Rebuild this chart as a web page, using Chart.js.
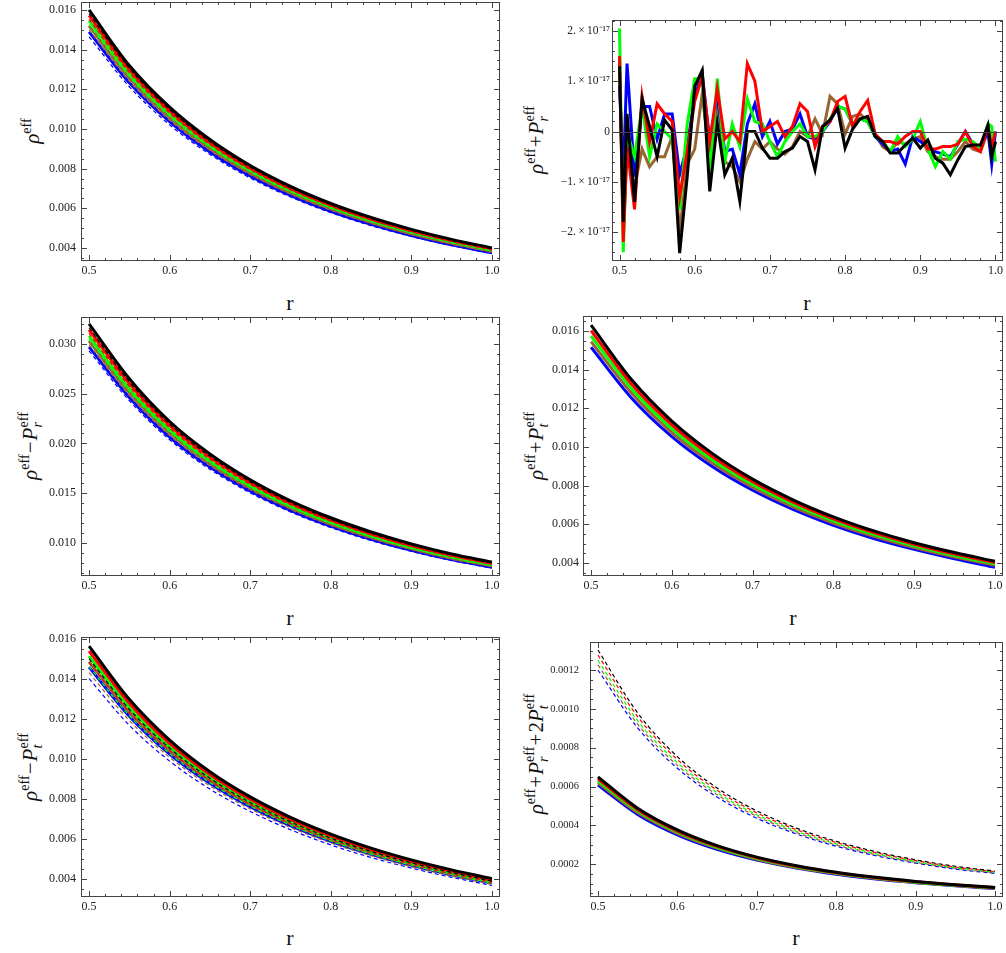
<!DOCTYPE html>
<html>
<head>
<meta charset="utf-8">
<script src="https://cdn.jsdelivr.net/npm/chart.js@4.4.0/dist/chart.umd.min.js"></script>
<style>
  body { margin: 0; background: #fff; }
  #page { position: relative; width: 1006px; height: 953px; overflow: hidden; font-family: "Liberation Serif", serif; color: #111; }
  canvas { position: absolute; }
  .xt { position: absolute; font-size: 22px; line-height: 1; transform: translate(-50%, -50%); }
  .yt { position: absolute; font-size: 21px; line-height: 1; white-space: nowrap; transform: translate(-50%, -50%) rotate(-90deg); }
  .sp { font-size: 0.68em; vertical-align: 0.55em; }
  .ss { display: inline-block; font-size: 0.68em; line-height: 0.95; vertical-align: -0.35em; }
  .ss span { display: block; }
  .op { margin: 0 1px; }
</style>
</head>
<body>
<div id="page">
  <div class="yt" style="left:31px; top:131px"><i>ρ</i><span class="sp">eff</span></div>
  <div class="yt" style="left:537px; top:140px"><i>ρ</i><span class="sp">eff</span><span class="op">+</span><i>P</i><span class="ss"><span>eff</span><span><i>r</i></span></span></div>
  <div class="yt" style="left:31px; top:446px"><i>ρ</i><span class="sp">eff</span><span class="op">−</span><i>P</i><span class="ss"><span>eff</span><span><i>r</i></span></span></div>
  <div class="yt" style="left:537px; top:446px"><i>ρ</i><span class="sp">eff</span><span class="op">+</span><i>P</i><span class="ss"><span>eff</span><span><i>t</i></span></span></div>
  <div class="yt" style="left:31px; top:767px"><i>ρ</i><span class="sp">eff</span><span class="op">−</span><i>P</i><span class="ss"><span>eff</span><span><i>t</i></span></span></div>
  <div class="yt" style="left:537px; top:754px"><i>ρ</i><span class="sp">eff</span><span class="op">+</span><i>P</i><span class="ss"><span>eff</span><span><i>r</i></span></span><span class="op">+</span>2<i>P</i><span class="ss"><span>eff</span><span><i>t</i></span></span></div>
  <div class="xt" style="left:290px; top:303px">r</div>
  <div class="xt" style="left:807px; top:303px">r</div>
  <div class="xt" style="left:290px; top:618px">r</div>
  <div class="xt" style="left:793px; top:618px">r</div>
  <div class="xt" style="left:290px; top:938px">r</div>
  <div class="xt" style="left:796px; top:938px">r</div>
</div>
<script>
// radius samples used for the smooth curves
const r = [0.5, 0.55, 0.6, 0.65, 0.7, 0.75, 0.8, 0.85, 0.9, 0.95, 1.0];

// rho^eff
const rhoBlack = [0.0160, 0.0132, 0.0111, 0.00947, 0.00816, 0.00711, 0.00625, 0.00554, 0.00494, 0.00443, 0.00400];
const rhoRed = [0.01573, 0.01300, 0.01093, 0.00932, 0.00804, 0.00701, 0.00616, 0.00546, 0.00487, 0.00437, 0.00394];
const rhoGreen = [0.01547, 0.01280, 0.01076, 0.00918, 0.00792, 0.00690, 0.00607, 0.00538, 0.00480, 0.00431, 0.00389];
const rhoBrown = [0.01520, 0.01257, 0.01057, 0.00902, 0.00778, 0.00678, 0.00597, 0.00529, 0.00472, 0.00424, 0.00383];
const rhoBlue = [0.01490, 0.01233, 0.01037, 0.00884, 0.00763, 0.00665, 0.00585, 0.00519, 0.00463, 0.00416, 0.00376];
const rhoBlackDash = [0.01582, 0.01307, 0.01098, 0.00937, 0.00808, 0.00704, 0.00619, 0.00549, 0.00490, 0.00439, 0.00397];
const rhoRedDash = [0.01553, 0.01284, 0.01080, 0.00921, 0.00795, 0.00693, 0.00610, 0.00541, 0.00483, 0.00433, 0.00391];
const rhoGreenDash = [0.01527, 0.01264, 0.01063, 0.00907, 0.00783, 0.00683, 0.00601, 0.00533, 0.00476, 0.00427, 0.00386];
const rhoBrownDash = [0.01500, 0.01241, 0.01044, 0.00892, 0.00770, 0.00671, 0.00591, 0.00524, 0.00468, 0.00420, 0.00380];
const rhoBlueDash = [0.01465, 0.01213, 0.01021, 0.00872, 0.00753, 0.00657, 0.00578, 0.00513, 0.00458, 0.00412, 0.00372];

// rho^eff + P_r^eff, numerical noise, values in units of 1e-17
const rNoise = [0.5, 0.505, 0.51, 0.52, 0.53, 0.54, 0.55, 0.56, 0.57, 0.58, 0.59, 0.60, 0.61, 0.62, 0.63, 0.64, 0.65,
  0.66, 0.67, 0.68, 0.69, 0.70, 0.71, 0.72, 0.73, 0.74, 0.75, 0.76, 0.77, 0.78, 0.79, 0.80, 0.81, 0.82, 0.83, 0.84,
  0.85, 0.86, 0.87, 0.88, 0.89, 0.90, 0.91, 0.92, 0.93, 0.94, 0.95, 0.96, 0.97, 0.98, 0.99, 0.995, 1.0];
const noiseBlack = [1.3, -1.8, 0.35, -1.4, 0.65, 0.1, -0.5, 0.23, 0.03, -2.42, -0.9, 0.9, 1.22, -1.19, 0.17, -0.86, -0.53,
  -1.39, 0, 0, -0.33, -0.53, -0.53, -0.4, -0.33, -0.1, -0.2, -0.76, 0.1, 0.23, 0.46, -0.33, 0.05, 0.25, 0.3, -0.1,
  -0.2, -0.43, -0.43, -0.27, -0.13, -0.33, -0.17, -0.53, -0.63, -0.86, -0.56, -0.3, -0.27, -0.27, 0.13, -0.5, -0.2];
const noiseRed = [1.5, -2.2, -0.3, -1.55, 0.7, -0.2, 0.55, 0.35, 0.2, -1.3, -0.4, 0.6, 1.1, -0.2, 0.85, -0.15, 0.0,
  -0.2, 1.35, 1.0, 0.0, 0.1, 0.2, -0.1, 0.1, 0.55, 0.4, -0.3, 0.1, 0.2, 0.6, 0.7, 0.1, 0.4, 0.62, -0.05,
  -0.2, -0.2, -0.25, -0.1, 0.0, 0.0, -0.35, -0.35, -0.3, -0.3, -0.25, 0.0, -0.3, -0.4, 0.1, -0.3, 0.0];
const noiseGreen = [2.05, -2.4, 0.0, -0.5, 0.5, -0.5, 0.15, 0.0, -0.15, -1.55, 0.15, 1.05, 1.05, -0.85, 1.05, -0.6, 0.15,
  -0.3, 0.65, 0.2, 0.15, -0.2, -0.5, -0.2, 0.0, 0.15, -0.1, -0.1, 0.0, 0.25, 0.5, 0.45, 0.15, 0.25, 0.2, -0.1,
  -0.2, -0.4, -0.1, -0.3, -0.15, 0.2, -0.35, -0.7, -0.4, -0.55, -0.2, -0.15, -0.2, -0.35, 0.15, 0.1, -0.6];
const noiseBlue = [0.9, -0.9, 1.35, -0.9, 0.5, 0.5, -0.15, 0.35, 0.35, -0.85, -0.3, 0.7, 1.15, -0.2, 0.7, -0.4, -0.35,
  -0.85, 0.15, 0.55, -0.1, 0.2, -0.25, 0.0, 0.05, 0.35, -0.1, -0.15, 0.0, 0.2, 0.5, 0.45, 0.15, 0.25, 0.2, -0.1,
  -0.25, -0.4, -0.35, -0.65, -0.1, -0.2, -0.3, -0.4, -0.45, -0.5, -0.25, 0.0, -0.25, -0.3, 0.0, -0.65, 0.0];
const noiseBrown = [1.4, -2.0, -0.4, -1.1, -0.35, -0.7, -0.5, -0.5, -0.1, -2.0, -0.65, -0.35, 0.75, -0.55, 0.65, -0.6, -0.7,
  -1.0, -0.55, -0.2, -0.35, -0.2, -0.35, -0.45, -0.3, 0.0, -0.1, 0.25, -0.05, 0.7, 0.55, -0.05, 0.3, 0.35, 0.2, -0.05,
  -0.3, -0.4, -0.2, -0.25, -0.15, -0.1, -0.4, -0.5, -0.55, -0.55, -0.4, -0.2, -0.35, -0.4, 0.0, -0.5, -0.2];

// rho^eff - P_r^eff
const rmprBlack = [0.0320, 0.0265, 0.0222, 0.01895, 0.01635, 0.01424, 0.01253, 0.01111, 0.00991, 0.00890, 0.00808];
const rmprRed = [0.03142, 0.02602, 0.02181, 0.01862, 0.01607, 0.01400, 0.01232, 0.01093, 0.00975, 0.00876, 0.00795];
const rmprGreen = [0.03080, 0.02552, 0.02139, 0.01826, 0.01576, 0.01373, 0.01209, 0.01072, 0.00957, 0.00860, 0.00781];
const rmprBrown = [0.03030, 0.02511, 0.02105, 0.01797, 0.01552, 0.01352, 0.01190, 0.01056, 0.00943, 0.00847, 0.00770];
const rmprBlue = [0.02970, 0.02462, 0.02064, 0.01763, 0.01523, 0.01328, 0.01169, 0.01037, 0.00926, 0.00833, 0.00757];
const rmprBlackDash = [0.03162, 0.02619, 0.02194, 0.01873, 0.01616, 0.01407, 0.01238, 0.01098, 0.00980, 0.00880, 0.00799];
const rmprRedDash = [0.03105, 0.02572, 0.02155, 0.01840, 0.01588, 0.01384, 0.01218, 0.01081, 0.00964, 0.00866, 0.00786];
const rmprGreenDash = [0.03045, 0.02523, 0.02115, 0.01806, 0.01559, 0.01359, 0.01196, 0.01061, 0.00947, 0.00851, 0.00773];
const rmprBrownDash = [0.02993, 0.02481, 0.02080, 0.01776, 0.01534, 0.01337, 0.01177, 0.01044, 0.00933, 0.00838, 0.00762];
const rmprBlueDash = [0.02930, 0.02429, 0.02037, 0.01740, 0.01503, 0.01311, 0.01154, 0.01024, 0.00915, 0.00823, 0.00748];

// rho^eff + P_t^eff
const rpptBlack = [0.01630, 0.01349, 0.01134, 0.00967, 0.00834, 0.00727, 0.00639, 0.00566, 0.00505, 0.00454, 0.00409];
const rpptRed = [0.01602, 0.01326, 0.01115, 0.00951, 0.00820, 0.00715, 0.00628, 0.00557, 0.00497, 0.00446, 0.00402];
const rpptGreen = [0.01574, 0.01303, 0.01095, 0.00934, 0.00806, 0.00703, 0.00618, 0.00548, 0.00489, 0.00439, 0.00396];
const rpptBrown = [0.01545, 0.01279, 0.01075, 0.00917, 0.00792, 0.00690, 0.00607, 0.00538, 0.00480, 0.00431, 0.00389];
const rpptBlue = [0.01516, 0.01254, 0.01054, 0.00899, 0.00776, 0.00677, 0.00595, 0.00527, 0.00471, 0.00422, 0.00378];

// rho^eff - P_t^eff
const rmptBlack = [0.01563, 0.01297, 0.01093, 0.00935, 0.00809, 0.00707, 0.00623, 0.00553, 0.00494, 0.00444, 0.00400];
const rmptRed = [0.01538, 0.01277, 0.01076, 0.00921, 0.00797, 0.00696, 0.00614, 0.00545, 0.00487, 0.00438, 0.00394];
const rmptGreen = [0.01513, 0.01256, 0.01059, 0.00907, 0.00785, 0.00686, 0.00605, 0.00537, 0.00480, 0.00432, 0.00389];
const rmptBrown = [0.01485, 0.01234, 0.01041, 0.00892, 0.00772, 0.00675, 0.00595, 0.00529, 0.00473, 0.00425, 0.00383];
const rmptBlue = [0.01458, 0.01212, 0.01023, 0.00877, 0.00760, 0.00665, 0.00587, 0.00522, 0.00467, 0.00420, 0.00378];
const rmptBlackDash = [0.01500, 0.01247, 0.01053, 0.00902, 0.00781, 0.00684, 0.00603, 0.00536, 0.00479, 0.00431, 0.00388];
const rmptRedDash = [0.01480, 0.01231, 0.01040, 0.00891, 0.00772, 0.00676, 0.00596, 0.00530, 0.00473, 0.00425, 0.00383];
const rmptGreenDash = [0.01460, 0.01215, 0.01026, 0.00880, 0.00763, 0.00668, 0.00589, 0.00523, 0.00468, 0.00420, 0.00378];
const rmptBrownDash = [0.01430, 0.01191, 0.01007, 0.00864, 0.00749, 0.00656, 0.00579, 0.00515, 0.00460, 0.00413, 0.00372];
const rmptBlueDash = [0.01400, 0.01167, 0.00988, 0.00848, 0.00736, 0.00645, 0.00569, 0.00506, 0.00453, 0.00407, 0.00366];

// rho^eff + P_r^eff + 2 P_t^eff
const secBlack = [0.000650, 0.000489, 0.000377, 0.000296, 0.000237, 0.000193, 0.000159, 0.000133, 0.000112, 0.000095, 0.000081];
const secRed = [0.000640, 0.000481, 0.000371, 0.000292, 0.000234, 0.000190, 0.000157, 0.000131, 0.000110, 0.000094, 0.000080];
const secGreen = [0.000630, 0.000474, 0.000365, 0.000287, 0.000230, 0.000187, 0.000154, 0.000129, 0.000108, 0.000092, 0.000079];
const secBrown = [0.000620, 0.000466, 0.000359, 0.000283, 0.000226, 0.000184, 0.000152, 0.000127, 0.000107, 0.000091, 0.000077];
const secBlue = [0.000608, 0.000457, 0.000352, 0.000277, 0.000222, 0.000181, 0.000149, 0.000124, 0.000105, 0.000089, 0.000075];
const secBlackDash = [0.001303, 0.000979, 0.000754, 0.000593, 0.000475, 0.000386, 0.000318, 0.000265, 0.000223, 0.000190, 0.000165];
const secRedDash = [0.001277, 0.000960, 0.000739, 0.000581, 0.000465, 0.000378, 0.000312, 0.000260, 0.000219, 0.000186, 0.000162];
const secGreenDash = [0.001250, 0.000939, 0.000723, 0.000569, 0.000455, 0.000370, 0.000305, 0.000254, 0.000214, 0.000182, 0.000159];
const secBrownDash = [0.001226, 0.000921, 0.000709, 0.000558, 0.000447, 0.000363, 0.000299, 0.000249, 0.000210, 0.000179, 0.000156];
const secBlueDash = [0.001200, 0.000902, 0.000694, 0.000546, 0.000437, 0.000356, 0.000293, 0.000244, 0.000206, 0.000175, 0.000153];

const BLACK = '#000000', RED = '#ff0000', GREEN = '#00ff00', BROWN = '#996633', BLUE = '#0000ff';
const FRAME = '#444444';

function solid(xs, ys, color) {
  return {
    data: xs.map((x, i) => ({x: x, y: ys[i]})),
    borderColor: color, borderWidth: 3, pointRadius: 0,
    cubicInterpolationMode: 'monotone'
  };
}
function dashed(xs, ys, color) {
  return {
    data: xs.map((x, i) => ({x: x, y: ys[i]})),
    borderColor: color, borderWidth: 1.2, borderDash: [4, 3], pointRadius: 0,
    cubicInterpolationMode: 'monotone'
  };
}
function jagged(xs, ys, color) {
  return {
    data: xs.map((x, i) => ({x: x, y: ys[i]})),
    borderColor: color, borderWidth: 3, pointRadius: 0, tension: 0,
    borderJoinStyle: 'miter'
  };
}

// Mathematica style frame: box with inward major and minor ticks on all sides
const frameTicks = {
  id: 'frameTicks',
  afterDatasetsDraw(chart, args, opts) {
    const {ctx, chartArea: a, scales} = chart;
    ctx.save();
    ctx.strokeStyle = FRAME;
    ctx.lineWidth = 1;
    if (opts.zeroLine) {
      const py = Math.round(scales.y.getPixelForValue(0)) + 0.5;
      ctx.beginPath(); ctx.moveTo(a.left, py); ctx.lineTo(a.right, py); ctx.stroke();
    }
    ctx.strokeRect(a.left + 0.5, a.top + 0.5, a.right - a.left - 1, a.bottom - a.top - 1);
    const marks = (scale, major, minor) => {
      const out = [];
      const k0 = Math.ceil(scale.min / minor - 1e-9), k1 = Math.floor(scale.max / minor + 1e-9);
      for (let k = k0; k <= k1; k++) {
        const v = k * minor;
        const q = v / major;
        out.push({p: Math.round(scale.getPixelForValue(v)) + 0.5, big: Math.abs(q - Math.round(q)) < 1e-6});
      }
      return out;
    };
    ctx.beginPath();
    marks(scales.x, opts.xMajor, opts.xMinor).forEach(m => {
      const len = m.big ? 6 : 3;
      ctx.moveTo(m.p, a.bottom); ctx.lineTo(m.p, a.bottom - len);
      ctx.moveTo(m.p, a.top); ctx.lineTo(m.p, a.top + len);
    });
    marks(scales.y, opts.yMajor, opts.yMinor).forEach(m => {
      const len = m.big ? 6 : 3;
      ctx.moveTo(a.left, m.p); ctx.lineTo(a.left + len, m.p);
      ctx.moveTo(a.right, m.p); ctx.lineTo(a.right - len, m.p);
    });
    ctx.stroke();
    ctx.restore();
  }
};

function panel(p) {
  const canvas = document.createElement('canvas');
  canvas.width = p.w; canvas.height = p.h;
  canvas.style.left = p.left + 'px';
  canvas.style.top = p.top + 'px';
  document.getElementById('page').appendChild(canvas);
  const xFont = {family: 'Liberation Serif', size: 12};
  const yFont = {family: 'Liberation Serif', size: p.yFontSize || 12};
  new Chart(canvas, {
    type: 'line',
    data: {datasets: p.datasets},
    options: {
      responsive: false,
      animation: false,
      devicePixelRatio: 1,
      layout: {padding: {top: p.padTop, right: p.padRight, left: 0, bottom: 0}},
      plugins: {
        legend: {display: false},
        tooltip: {enabled: false},
        frameTicks: {xMajor: 0.1, xMinor: 0.02, yMajor: p.yStep, yMinor: p.yMinor, zeroLine: !!p.zeroLine}
      },
      scales: {
        x: {
          type: 'linear', min: 0.49, max: 1.01,
          grid: {display: false, drawTicks: false}, border: {display: false},
          ticks: {stepSize: 0.1, includeBounds: false, autoSkip: false, maxRotation: 0, padding: 3,
            font: xFont, color: '#222', callback: v => v.toFixed(1)},
          afterFit: s => { s.height = p.xAxisH; s.paddingLeft = 0; s.paddingRight = 0; }
        },
        y: {
          type: 'linear', min: p.yMin, max: p.yMax,
          grid: {display: false, drawTicks: false}, border: {display: false},
          ticks: {stepSize: p.yStep, includeBounds: false, autoSkip: false, padding: p.yPad,
            font: yFont, color: '#222', callback: p.yLabel},
          afterFit: s => { s.width = p.yAxisW; s.paddingTop = 0; s.paddingBottom = 0; }
        }
      }
    },
    plugins: [frameTicks]
  });
}

const fixed = n => v => v.toFixed(n);
const sci = v => {
  if (Math.abs(v) < 1e-9) return '0';
  return (v < 0 ? '\u2212' : '') + Math.abs(Math.round(v)) + '.\u2009\u00d7\u200910\u207b\u00b9\u2077';
};

panel({
  left: 0, top: 0, w: 501, h: 285, padTop: 2, padRight: 1, yAxisW: 81, xAxisH: 24, yPad: 5,
  yMin: 0.003344, yMax: 0.016403, yStep: 0.002, yMinor: 0.0005, yLabel: fixed(3),
  datasets: [
    dashed(r, rhoBlackDash, BLACK), dashed(r, rhoRedDash, RED), dashed(r, rhoGreenDash, GREEN),
    dashed(r, rhoBrownDash, BROWN), dashed(r, rhoBlueDash, BLUE),
    solid(r, rhoBlack, BLACK), solid(r, rhoRed, RED), solid(r, rhoGreen, GREEN),
    solid(r, rhoBrown, BROWN), solid(r, rhoBlue, BLUE)
  ]
});

panel({
  left: 505, top: 0, w: 501, h: 285, padTop: 20, padRight: 3, yAxisW: 107, xAxisH: 24, yPad: 2,
  yMin: -2.577, yMax: 2.219, yStep: 1, yMinor: 0.2, yLabel: sci, zeroLine: true, yFontSize: 11.5,
  datasets: [
    jagged(rNoise, noiseBlack, BLACK), jagged(rNoise, noiseRed, RED), jagged(rNoise, noiseGreen, GREEN),
    jagged(rNoise, noiseBlue, BLUE), jagged(rNoise, noiseBrown, BROWN)
  ]
});

panel({
  left: 0, top: 312, w: 501, h: 288, padTop: 5, padRight: 1, yAxisW: 81, xAxisH: 24, yPad: 5,
  yMin: 0.00668, yMax: 0.0327, yStep: 0.005, yMinor: 0.001, yLabel: fixed(3),
  datasets: [
    dashed(r, rmprBlackDash, BLACK), dashed(r, rmprRedDash, RED), dashed(r, rmprGreenDash, GREEN),
    dashed(r, rmprBrownDash, BROWN), dashed(r, rmprBlueDash, BLUE),
    solid(r, rmprBlack, BLACK), solid(r, rmprRed, RED), solid(r, rmprGreen, GREEN),
    solid(r, rmprBrown, BROWN), solid(r, rmprBlue, BLUE)
  ]
});

panel({
  left: 505, top: 312, w: 501, h: 288, padTop: 4, padRight: 3, yAxisW: 78, xAxisH: 24, yPad: 4,
  yMin: 0.003327, yMax: 0.016776, yStep: 0.002, yMinor: 0.0005, yLabel: fixed(3),
  datasets: [
    solid(r, rpptBlack, BLACK), solid(r, rpptRed, RED), solid(r, rpptGreen, GREEN),
    solid(r, rpptBrown, BROWN), solid(r, rpptBlue, BLUE)
  ]
});

panel({
  left: 0, top: 630, w: 501, h: 291, padTop: 7, padRight: 1, yAxisW: 81, xAxisH: 24, yPad: 5,
  yMin: 0.003085, yMax: 0.016085, yStep: 0.002, yMinor: 0.0005, yLabel: fixed(3),
  datasets: [
    dashed(r, rmptBlackDash, BLACK), dashed(r, rmptRedDash, RED), dashed(r, rmptGreenDash, GREEN),
    dashed(r, rmptBrownDash, BROWN), dashed(r, rmptBlueDash, BLUE),
    solid(r, rmptBlack, BLACK), solid(r, rmptRed, RED), solid(r, rmptGreen, GREEN),
    solid(r, rmptBrown, BROWN), solid(r, rmptBlue, BLUE)
  ]
});

panel({
  left: 505, top: 630, w: 501, h: 291, padTop: 12, padRight: 3, yAxisW: 85, xAxisH: 24, yPad: 11,
  yMin: 0.0000317, yMax: 0.001344, yStep: 0.0002, yMinor: 0.00005, yLabel: fixed(4), yFontSize: 10.5,
  datasets: [
    dashed(r, secBlackDash, BLACK), dashed(r, secRedDash, RED), dashed(r, secGreenDash, GREEN),
    dashed(r, secBrownDash, BROWN), dashed(r, secBlueDash, BLUE),
    solid(r, secBlack, BLACK), solid(r, secRed, RED), solid(r, secGreen, GREEN),
    solid(r, secBrown, BROWN), solid(r, secBlue, BLUE)
  ]
});
</script>
</body>
</html>
